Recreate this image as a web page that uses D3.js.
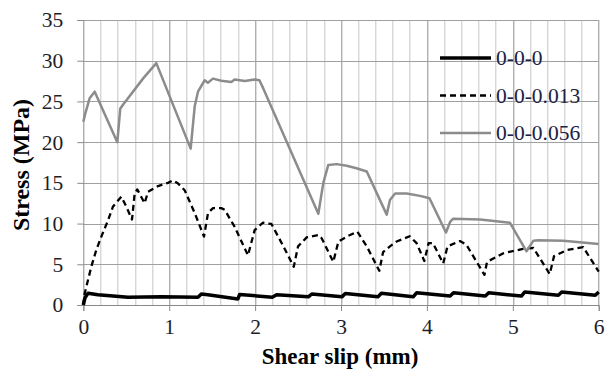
<!DOCTYPE html>
<html>
<head>
<meta charset="utf-8">
<script src="https://cdn.jsdelivr.net/npm/d3@7"></script>
<style>
  body { margin: 0; background: #fff; }
  svg { display: block; }
</style>
</head>
<body>
<svg width="606" height="371"></svg>
<script>
// series values
const slip0 = [0, 0.02, 0.055, 0.17, 0.52, 0.91, 1.335, 1.374, 1.45, 1.8, 1.82, 2.2, 2.25, 2.62, 2.66, 3.01, 3.05, 3.43, 3.47, 3.84, 3.88, 4.27, 4.31, 4.68, 4.72, 5.1, 5.14, 5.53, 5.57, 5.96, 6.0];
const stress0 = [0, 0.9, 1.45, 1.25, 0.95, 1.0, 0.95, 1.35, 1.25, 0.75, 1.3, 0.95, 1.25, 1.0, 1.35, 1.0, 1.4, 1.0, 1.45, 1.0, 1.5, 1.1, 1.5, 1.1, 1.5, 1.1, 1.6, 1.2, 1.6, 1.2, 1.6];

const slip013 = [0, 0.016, 0.093, 0.151, 0.21, 0.288, 0.346, 0.443, 0.5, 0.567, 0.598, 0.628, 0.714, 0.753, 0.87, 0.986, 1.044, 1.1, 1.18, 1.297, 1.405, 1.452, 1.51, 1.607, 1.646, 1.762, 1.917, 1.995, 2.09, 2.19, 2.33, 2.45, 2.5, 2.6, 2.736, 2.775, 2.91, 2.97, 3.085, 3.19, 3.3, 3.446, 3.49, 3.57, 3.648, 3.8, 3.88, 3.97, 4.02, 4.07, 4.19, 4.24, 4.385, 4.46, 4.67, 4.7, 4.89, 5.12, 5.24, 5.43, 5.48, 5.63, 5.82, 6.0];
const stress013 = [0, 1.4, 4.7, 6.75, 8.4, 10.4, 12.1, 13.3, 12.1, 10.5, 13.7, 14.2, 12.5, 13.9, 14.6, 15.0, 15.3, 14.95, 14.1, 11.3, 8.4, 11.3, 11.9, 11.9, 11.7, 9.6, 6.1, 9.2, 10.1, 9.95, 7.2, 4.7, 7.2, 8.3, 8.6, 8.2, 5.3, 7.8, 8.5, 9.0, 7.2, 4.2, 6.5, 7.2, 7.8, 8.45, 7.6, 5.4, 7.6, 7.6, 5.1, 7.2, 7.85, 7.4, 3.7, 5.3, 6.35, 6.9, 7.0, 3.8, 6.0, 6.75, 7.1, 4.1];

const slip056 = [0, 0.023, 0.074, 0.133, 0.396, 0.43, 0.462, 0.52, 0.695, 0.85, 1.25, 1.297, 1.335, 1.413, 1.45, 1.51, 1.607, 1.723, 1.762, 1.88, 1.995, 2.05, 2.095, 2.736, 2.794, 2.852, 2.95, 3.066, 3.18, 3.3, 3.532, 3.57, 3.63, 3.765, 3.92, 4.03, 4.222, 4.27, 4.307, 4.62, 4.967, 5.16, 5.24, 5.3, 5.588, 6.0];
const stress056 = [22.5, 23.5, 25.4, 26.2, 20.0, 24.1, 24.6, 25.4, 27.8, 29.7, 19.2, 24.4, 26.2, 27.6, 27.3, 27.8, 27.55, 27.4, 27.7, 27.5, 27.7, 27.6, 26.6, 11.2, 15.0, 17.2, 17.3, 17.1, 16.8, 16.4, 11.1, 12.9, 13.7, 13.7, 13.4, 13.1, 8.9, 10.2, 10.6, 10.5, 10.1, 6.6, 7.9, 7.95, 7.9, 7.5];

const seriesNames = ['0-0-0', '0-0-0.013', '0-0-0.056'];
const xTicks = [0, 1, 2, 3, 4, 5, 6];
const yTicks = [0, 5, 10, 15, 20, 25, 30, 35];

const svg = d3.select('svg');
const margin = { left: 83.3, top: 20, right: 7.3, bottom: 66 };
const width = 606 - margin.left - margin.right;
const height = 371 - margin.top - margin.bottom;
const serif = '"Liberation Serif", "Times New Roman", serif';

const x = d3.scaleLinear().domain([0, 6]).range([0, width]);
const y = d3.scaleLinear().domain([0, 35]).range([height, 0]);

const g = svg.append('g').attr('transform', `translate(${margin.left},${margin.top})`);

// minor vertical grid every 0.2 mm
const minor = d3.range(0, 6.001, 0.2).map(v => +v.toFixed(1)).filter(v => v % 1 !== 0);
g.append('g').selectAll('line')
  .data(minor)
  .enter().append('line')
    .attr('x1', d => Math.round(x(d)) + 0.5)
    .attr('x2', d => Math.round(x(d)) + 0.5)
    .attr('y1', 0).attr('y2', height)
    .attr('stroke', '#c6c6c6');

g.append('g').selectAll('line')
  .data(xTicks.slice(1))
  .enter().append('line')
    .attr('x1', d => Math.round(x(d)) + 0.5)
    .attr('x2', d => Math.round(x(d)) + 0.5)
    .attr('y1', 0).attr('y2', height)
    .attr('stroke', '#8f8f8f');

g.append('g').selectAll('line')
  .data(yTicks.slice(1))
  .enter().append('line')
    .attr('x1', 0).attr('x2', width)
    .attr('y1', d => Math.round(y(d)) + 0.5)
    .attr('y2', d => Math.round(y(d)) + 0.5)
    .attr('stroke', '#a0a0a0');

// axes
const xAxis = g.append('g')
  .attr('transform', `translate(0,${height})`)
  .call(d3.axisBottom(x).tickValues(xTicks).tickFormat(d3.format('d')).tickSize(6).tickPadding(8));
const yAxis = g.append('g')
  .call(d3.axisLeft(y).tickValues(yTicks).tickFormat(d3.format('d')).tickSize(6).tickPadding(14));

[xAxis, yAxis].forEach(a => {
  a.select('.domain').attr('stroke', '#8a8a8a');
  a.selectAll('.tick line').attr('stroke', '#8a8a8a');
  a.selectAll('text')
    .attr('fill', '#1e1e28')
    .style('font-family', serif)
    .style('font-size', '21.5px');
});

// curves
const line = d3.line().x(d => x(d[0])).y(d => y(d[1]));
const series = [
  { name: seriesNames[0], pts: d3.zip(slip0, stress0), color: '#000', w: 3.5, dash: null },
  { name: seriesNames[1], pts: d3.zip(slip013, stress013), color: '#000', w: 2.3, dash: '6,4' },
  { name: seriesNames[2], pts: d3.zip(slip056, stress056), color: '#8c8c8c', w: 2.5, dash: null }
];

g.append('g').selectAll('path')
  .data(series)
  .enter().append('path')
    .attr('d', d => line(d.pts))
    .attr('fill', 'none')
    .attr('stroke', d => d.color)
    .attr('stroke-width', d => d.w)
    .attr('stroke-dasharray', d => d.dash)
    .attr('stroke-linejoin', 'round');

// legend
const legend = svg.append('g').attr('transform', 'translate(440,58)');
const rows = legend.selectAll('g')
  .data(series)
  .enter().append('g')
    .attr('transform', (d, i) => `translate(0,${i * 37.5})`);
rows.append('line')
  .attr('x1', 0).attr('x2', 51)
  .attr('stroke', d => d.color)
  .attr('stroke-width', d => d.w)
  .attr('stroke-dasharray', d => d.dash);
rows.append('text')
  .attr('x', 56).attr('y', 7)
  .attr('fill', '#1c2244')
  .style('font-family', serif)
  .style('font-size', '21.5px')
  .text(d => d.name);

// axis titles
svg.append('text')
  .attr('x', 340).attr('y', 364)
  .attr('text-anchor', 'middle')
  .style('font-family', serif)
  .style('font-weight', 'bold')
  .style('font-size', '23px')
  .text('Shear slip (mm)');

svg.append('text')
  .attr('transform', 'translate(29,165) rotate(-90)')
  .attr('text-anchor', 'middle')
  .style('font-family', serif)
  .style('font-weight', 'bold')
  .style('font-size', '24px')
  .text('Stress (MPa)');
</script>
</body>
</html>
